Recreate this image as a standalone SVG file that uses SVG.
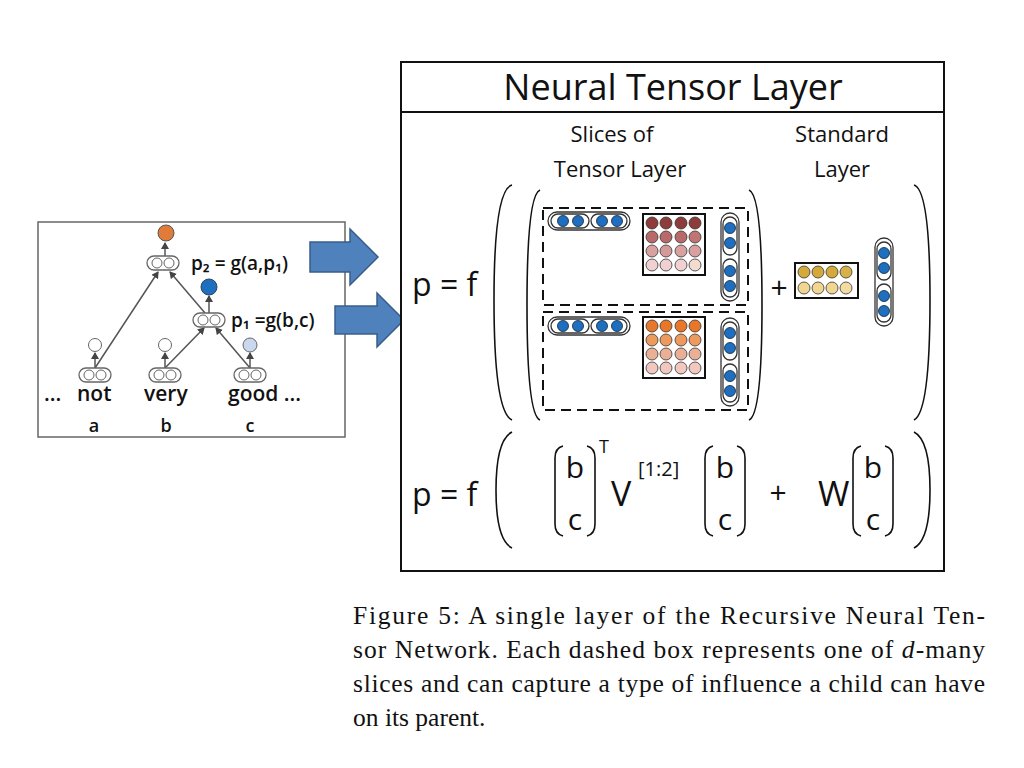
<svg xmlns="http://www.w3.org/2000/svg" width="1024" height="768" viewBox="0 0 1024 768">
<style>
.s{font-family:"Open Sans","Liberation Sans",sans-serif;fill:#111}
.cap{fill:none;stroke:#333;stroke-width:1.3}
.bl{fill:#1f6fc0;stroke:#123;stroke-width:0.8}
.tl{fill:none;stroke:#555;stroke-width:1.5}
.par{fill:none;stroke:#111;stroke-width:1.6}
.dash{fill:none;stroke:#111;stroke-width:2;stroke-dasharray:10 6}
.mx{fill:#fff;stroke:#111;stroke-width:2}
.mc{stroke:#333;stroke-width:0.8}
.ser{font-family:"Liberation Serif",serif;font-size:25.5px;fill:#111}
</style>
<defs>
<marker id="ah" markerWidth="8" markerHeight="8" refX="6" refY="4" orient="auto" markerUnits="userSpaceOnUse"><path d="M0,0 L7,4 L0,8 Z" fill="#444"/></marker>
<g id="tnode"><rect x="-16" y="-7" width="32" height="14" rx="7" fill="#fff" stroke="#666" stroke-width="1.3"/><circle cx="-6" cy="0" r="5" fill="#fff" stroke="#666"/><circle cx="6" cy="0" r="5" fill="#fff" stroke="#666"/></g>
<g id="hcap"><rect x="0" y="0" width="82" height="18" rx="9" class="cap"/><rect x="3" y="2" width="38" height="14" rx="7" class="cap"/><rect x="43" y="2" width="36" height="14" rx="7" class="cap"/><circle cx="15" cy="9" r="5.5" class="bl"/><circle cx="30" cy="9" r="5.5" class="bl"/><circle cx="54" cy="9" r="5.5" class="bl"/><circle cx="69" cy="9" r="5.5" class="bl"/></g>
<g id="vcap"><rect x="0" y="0" width="18" height="88" rx="9" class="cap"/><rect x="2" y="4" width="14" height="38" rx="7" class="cap"/><rect x="2" y="46" width="14" height="38" rx="7" class="cap"/><circle cx="9" cy="15" r="5.5" class="bl"/><circle cx="9" cy="30" r="5.5" class="bl"/><circle cx="9" cy="58" r="5.5" class="bl"/><circle cx="9" cy="73" r="5.5" class="bl"/></g>
</defs>
<rect width="1024" height="768" fill="#fff"/>

<g id="tree">
<rect x="38" y="222" width="307" height="215" fill="#fff" stroke="#666" stroke-width="1.5"/>
<g id="connectors">
<line x1="95" y1="368" x2="158" y2="272" class="tl" marker-end="url(#ah)"/>
<line x1="205" y1="313" x2="170" y2="272" class="tl" marker-end="url(#ah)"/>
<line x1="165" y1="368" x2="204" y2="328" class="tl" marker-end="url(#ah)"/>
<line x1="250" y1="368" x2="216" y2="328" class="tl" marker-end="url(#ah)"/>
<line x1="165" y1="256" x2="165" y2="243" class="tl" marker-end="url(#ah)"/>
<line x1="209" y1="313" x2="209" y2="296" class="tl" marker-end="url(#ah)"/>
<line x1="95" y1="368" x2="95" y2="353" class="tl" marker-end="url(#ah)"/>
<line x1="165" y1="368" x2="165" y2="353" class="tl" marker-end="url(#ah)"/>
<line x1="250" y1="368" x2="250" y2="353" class="tl" marker-end="url(#ah)"/>
</g>
<use href="#tnode" x="163" y="263"/>
<use href="#tnode" x="209" y="320"/>
<use href="#tnode" x="95" y="375"/>
<use href="#tnode" x="165" y="375"/>
<use href="#tnode" x="250" y="375"/>
<circle cx="166" cy="233" r="8" fill="#e07b39" stroke="#555"/>
<circle cx="209" cy="287" r="8" fill="#1f6fc0" stroke="#345"/>
<circle cx="95" cy="345" r="6.5" fill="#fff" stroke="#666"/>
<circle cx="165" cy="345" r="6.5" fill="#fff" stroke="#666"/>
<circle cx="250" cy="345" r="7" fill="#c9d8ec" stroke="#666"/>
<text x="191" y="270" class="s" font-size="19" font-weight="600">p₂ = g(a,p₁)</text>
<text x="231" y="327" class="s" font-size="19" font-weight="600">p₁ =g(b,c)</text>
<text y="401" class="s" font-size="21" font-weight="600"><tspan x="44">...</tspan><tspan x="77">not</tspan><tspan x="144">very</tspan><tspan x="228">good ...</tspan></text>
<text y="432" class="s" font-size="18" font-weight="600" text-anchor="middle"><tspan x="94">a</tspan><tspan x="166">b</tspan><tspan x="250">c</tspan></text>
</g>

<g id="arrows">
<path d="M310,242 H350 V229 L378,257 L350,285 V272 H310 Z" fill="#4f81bd" stroke="#385d8a" stroke-width="1.5"/>
<path d="M335,306 H377 V293 L404,320 L377,347 V334 H335 Z" fill="#4f81bd" stroke="#385d8a" stroke-width="1.5"/>
</g>

<g id="ntl">
<rect x="401" y="62" width="543" height="509" fill="#fff" stroke="#111" stroke-width="2"/>
<line x1="401" y1="112" x2="944" y2="112" stroke="#111" stroke-width="2"/>
<text x="673" y="100" class="s" font-size="36" text-anchor="middle">Neural Tensor Layer</text>
<text x="612" y="142" class="s" font-size="22" text-anchor="middle">Slices of</text>
<text x="620" y="177" class="s" font-size="22" text-anchor="middle">Tensor Layer</text>
<text x="842" y="142" class="s" font-size="22" text-anchor="middle">Standard</text>
<text x="842" y="177" class="s" font-size="22" text-anchor="middle">Layer</text>
<text x="412" y="296" class="s" font-size="32">p = f</text>
<path d="M512,185 Q494,190 494,300 Q494,412 512,420" class="par"/>
<path d="M914,185 Q930,190 930,300 Q930,412 914,420" class="par"/>
<path d="M540,190 Q527,195 527,305 Q527,415 540,420" class="par"/>
<path d="M749,190 Q762,195 762,305 Q762,415 749,420" class="par"/>

<g id="slice1">
<rect x="543" y="208" width="205" height="97" class="dash"/>
<use href="#hcap" x="548" y="212"/>
<rect x="643" y="214" width="62" height="61" class="mx"/>
<g class="mc">
<circle cx="652" cy="223" r="6" fill="#8e3b3b"/><circle cx="666" cy="223" r="6" fill="#8e3b3b"/><circle cx="681" cy="223" r="6" fill="#8e3b3b"/><circle cx="695" cy="223" r="6" fill="#8e3b3b"/>
<circle cx="652" cy="237" r="6" fill="#b86a6a"/><circle cx="666" cy="237" r="6" fill="#b86a6a"/><circle cx="681" cy="237" r="6" fill="#b86a6a"/><circle cx="695" cy="237" r="6" fill="#c07575"/>
<circle cx="652" cy="251" r="6" fill="#d9a0a0"/><circle cx="666" cy="251" r="6" fill="#d49999"/><circle cx="681" cy="251" r="6" fill="#d9a0a0"/><circle cx="695" cy="251" r="6" fill="#d9a0a0"/>
<circle cx="652" cy="265" r="6" fill="#f0d0d0"/><circle cx="666" cy="265" r="6" fill="#f0d0d0"/><circle cx="681" cy="265" r="6" fill="#f0d0d0"/><circle cx="695" cy="265" r="6" fill="#f2dcd0"/>
</g>
<use href="#vcap" x="721" y="213"/>
</g>

<g id="slice2">
<rect x="543" y="312" width="205" height="98" class="dash"/>
<use href="#hcap" x="548" y="317"/>
<rect x="643" y="317" width="62" height="61" class="mx"/>
<g class="mc">
<circle cx="652" cy="326" r="6" fill="#e8772a"/><circle cx="666" cy="326" r="6" fill="#e8772a"/><circle cx="681" cy="326" r="6" fill="#e8772a"/><circle cx="695" cy="326" r="6" fill="#e8772a"/>
<circle cx="652" cy="340" r="6" fill="#ec9a5e"/><circle cx="666" cy="340" r="6" fill="#ec9a5e"/><circle cx="681" cy="340" r="6" fill="#ec9a5e"/><circle cx="695" cy="340" r="6" fill="#ec9a5e"/>
<circle cx="652" cy="354" r="6" fill="#e9b096"/><circle cx="666" cy="354" r="6" fill="#e9b096"/><circle cx="681" cy="354" r="6" fill="#e9b096"/><circle cx="695" cy="354" r="6" fill="#e9b096"/>
<circle cx="652" cy="368" r="6" fill="#f0c8c0"/><circle cx="666" cy="368" r="6" fill="#f0c8c0"/><circle cx="681" cy="368" r="6" fill="#f0c8c0"/><circle cx="695" cy="368" r="6" fill="#f0c8c0"/>
</g>
<use href="#vcap" x="721" y="318"/>
</g>

<g id="standard">
<text x="779" y="298" class="s" font-size="30" text-anchor="middle">+</text>
<rect x="795" y="263" width="63" height="35" class="mx"/>
<g class="mc">
<circle cx="804" cy="272" r="6" fill="#d4a93a"/><circle cx="818" cy="272" r="6" fill="#d4a93a"/><circle cx="832" cy="272" r="6" fill="#d4a93a"/><circle cx="846" cy="272" r="6" fill="#d8b04a"/>
<circle cx="804" cy="288" r="6" fill="#f0d690"/><circle cx="818" cy="288" r="6" fill="#f0d690"/><circle cx="832" cy="288" r="6" fill="#f0d690"/><circle cx="846" cy="288" r="6" fill="#f3dca0"/>
</g>
<use href="#vcap" x="875" y="238"/>
</g>

<g id="formula">
<text x="412" y="506" class="s" font-size="32">p = f</text>
<path d="M512,432 Q496,440 496,490 Q496,540 512,548" class="par"/>
<path d="M914,432 Q930,440 930,490 Q930,540 914,548" class="par"/>
<path d="M563,446 Q555,448 555,458 V524 Q555,534 563,536" class="par"/>
<path d="M587,446 Q595,448 595,458 V524 Q595,534 587,536" class="par"/>
<text x="575" y="478" class="s" font-size="30" text-anchor="middle">b</text>
<text x="575" y="530" class="s" font-size="30" text-anchor="middle">c</text>
<text x="599" y="453" class="s" font-size="18">T</text>
<text x="611" y="506" class="s" font-size="34">V</text>
<text x="638" y="476" class="s" font-size="20">[1:2]</text>
<path d="M713,446 Q705,448 705,458 V524 Q705,534 713,536" class="par"/>
<path d="M737,446 Q745,448 745,458 V524 Q745,534 737,536" class="par"/>
<text x="725" y="478" class="s" font-size="30" text-anchor="middle">b</text>
<text x="725" y="530" class="s" font-size="30" text-anchor="middle">c</text>
<text x="778" y="503" class="s" font-size="30" text-anchor="middle">+</text>
<text x="818" y="506" class="s" font-size="34">W</text>
<path d="M861,446 Q853,448 853,458 V524 Q853,534 861,536" class="par"/>
<path d="M885,446 Q893,448 893,458 V524 Q893,534 885,536" class="par"/>
<text x="873" y="478" class="s" font-size="30" text-anchor="middle">b</text>
<text x="873" y="530" class="s" font-size="30" text-anchor="middle">c</text>
</g>
</g>

<g id="caption">
<text x="353" y="624" class="ser" textLength="632" lengthAdjust="spacing">Figure 5:  A single layer of the Recursive Neural Ten-</text>
<text x="353" y="658" class="ser" textLength="632" lengthAdjust="spacing">sor Network. Each dashed box represents one of <tspan font-style="italic">d</tspan>-many</text>
<text x="353" y="692" class="ser" textLength="632" lengthAdjust="spacing">slices and can capture a type of influence a child can have</text>
<text x="353" y="726" class="ser">on its parent.</text>
</g>
</svg>
